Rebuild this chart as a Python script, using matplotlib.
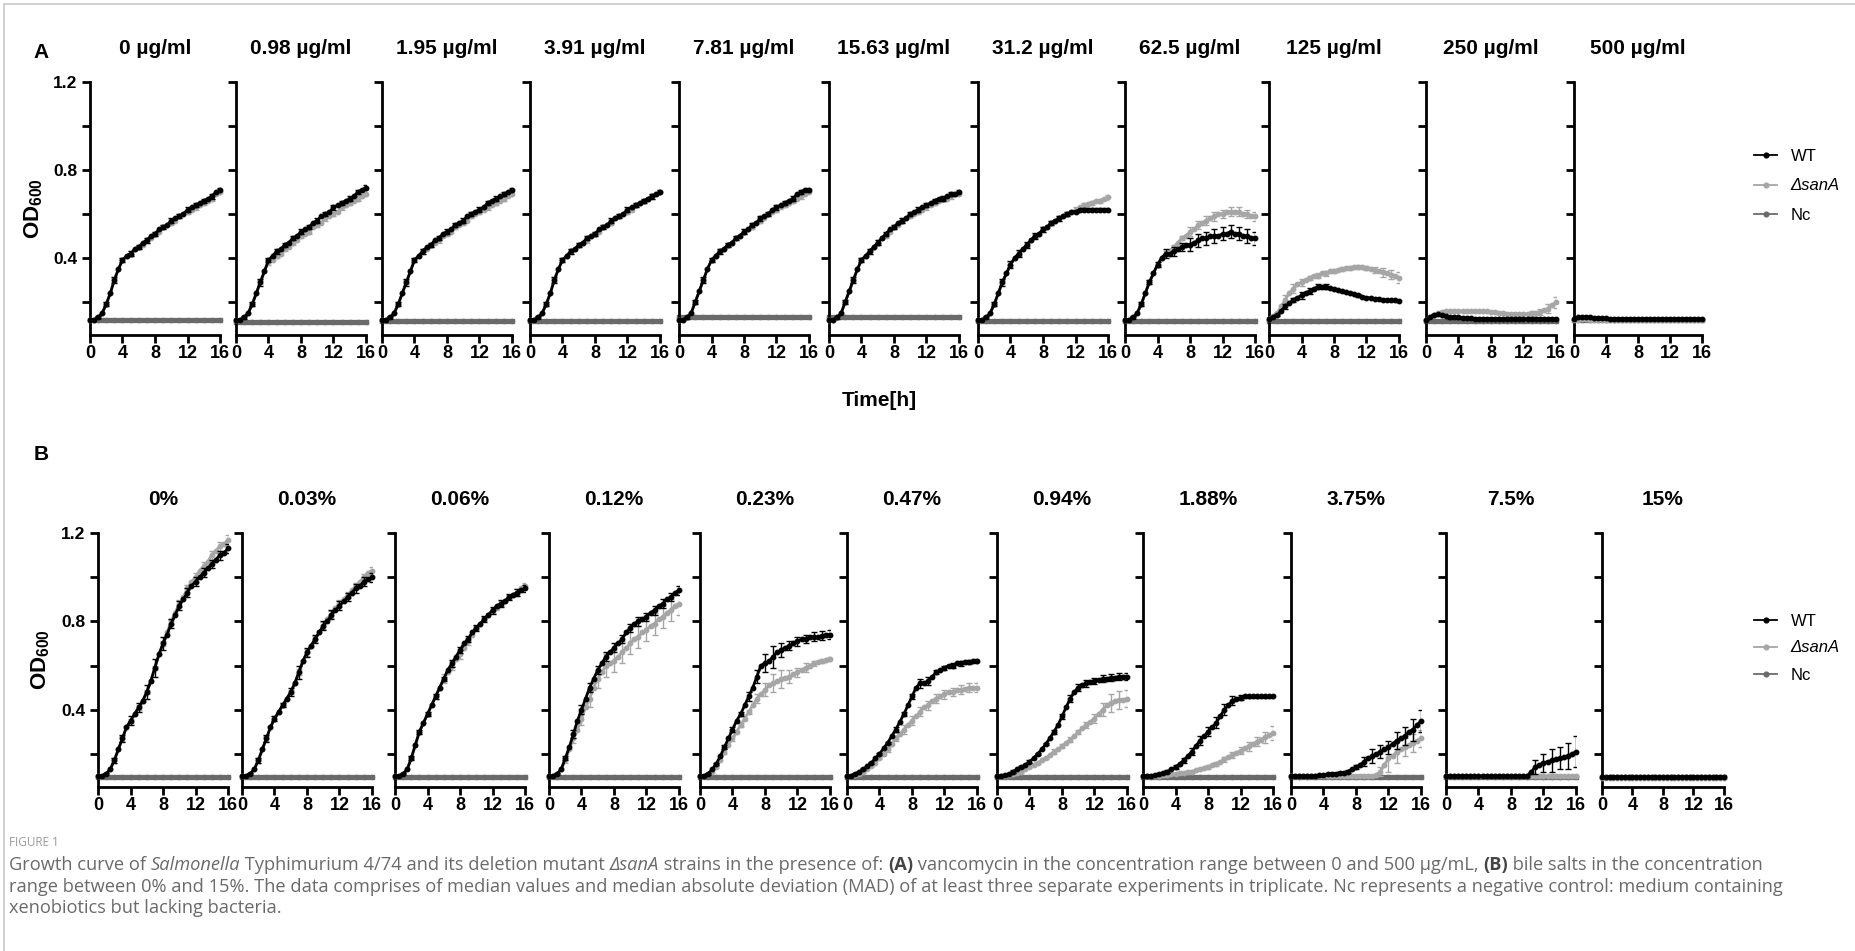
import matplotlib
matplotlib.use('Agg')
import matplotlib.pyplot as plt
from matplotlib.lines import Line2D
from matplotlib.font_manager import FontProperties

W, H = 1856, 951
plt.rcParams['font.family'] = ['Liberation Sans Narrow', 'Liberation Sans', 'DejaVu Sans']
plt.rcParams['mathtext.fontset'] = 'custom'
plt.rcParams['mathtext.rm'] = 'Liberation Sans'
plt.rcParams['mathtext.bf'] = 'Liberation Sans:bold'

# ---------------- data ----------------
T = [0, 0.5, 1, 1.5, 2, 2.5, 3, 3.5, 4, 4.5, 5, 5.5, 6, 6.5, 7, 7.5, 8, 8.5,
     9, 9.5, 10, 10.5, 11, 11.5, 12, 12.5, 13, 13.5, 14, 14.5, 15, 15.5, 16]
TH = [0, 1, 2, 3, 4, 5, 6, 7, 8, 9, 10, 11, 12, 13, 14, 15, 16]
X_TICKS = [0, 4, 8, 12, 16]
Y_TICKS = [0.2, 0.4, 0.6, 0.8, 1.0, 1.2]
Y_TICK_LABELS = ['', '0.4', '', '0.8', '', '1.2']

TITLES_A = ['0 µg/ml', '0.98 µg/ml', '1.95 µg/ml', '3.91 µg/ml', '7.81 µg/ml', '15.63 µg/ml',
            '31.2 µg/ml', '62.5 µg/ml', '125 µg/ml', '250 µg/ml', '500 µg/ml']
TITLES_B = ['0%', '0.03%', '0.06%', '0.12%', '0.23%', '0.47%', '0.94%', '1.88%', '3.75%', '7.5%', '15%']
SERIES = ['WT', 'ΔsanA', 'Nc']

# ---- Panel A: vancomycin ----
A1_WT = [.12,.12,.13,.15,.19,.24,.30,.35,.39,.41,.42,.44,.45,.47,.48,.50,.51,.53,.54,.55,.57,.58,.59,.60,.62,.63,.64,.65,.66,.67,.68,.70,.71]
A1_WT_ERR = [.003,.005,.01,.015,.01,.01,.01,.01,.01,.01,.01,.01,.01,.01,.01,.01,.01]
A1_DS = [.12,.12,.13,.15,.19,.24,.30,.35,.39,.41,.42,.44,.45,.46,.48,.49,.51,.52,.54,.55,.56,.57,.59,.60,.61,.62,.63,.64,.65,.66,.67,.69,.70]
A1_DS_ERR = [.003,.005,.01,.01,.01,.01,.01,.01,.01,.01,.01,.01,.01,.01,.01,.01,.01]
A1_NC = [.12,.12,.12,.12,.12,.12,.12,.12,.12,.12,.12,.12,.12,.12,.12,.12,.12]

A2_WT = [.12,.12,.13,.15,.19,.24,.29,.34,.39,.41,.43,.44,.46,.47,.49,.50,.52,.53,.54,.56,.57,.59,.60,.61,.63,.64,.65,.66,.67,.68,.70,.71,.72]
A2_WT_ERR = [.003,.005,.01,.015,.01,.01,.01,.01,.01,.01,.01,.01,.01,.01,.01,.01,.01]
A2_DS = [.12,.12,.13,.15,.19,.24,.29,.34,.38,.39,.41,.42,.44,.45,.47,.48,.50,.51,.52,.54,.55,.56,.58,.59,.60,.61,.63,.64,.65,.66,.67,.68,.69]
A2_DS_ERR = [.003,.005,.01,.01,.01,.01,.01,.01,.01,.01,.01,.01,.01,.01,.01,.01,.01]
A2_NC = [.11,.11,.11,.11,.11,.11,.11,.11,.11,.11,.11,.11,.11,.11,.11,.11,.11]

A3_WT = [.12,.12,.13,.15,.19,.24,.29,.34,.39,.41,.43,.45,.46,.48,.49,.51,.52,.53,.55,.56,.57,.59,.60,.61,.62,.63,.65,.66,.67,.68,.69,.70,.71]
A3_WT_ERR = [.003,.005,.01,.015,.01,.01,.01,.01,.01,.01,.01,.01,.01,.01,.01,.01,.01]
A3_DS = [.12,.12,.13,.15,.19,.24,.29,.34,.39,.41,.43,.44,.46,.47,.48,.50,.51,.52,.54,.55,.56,.57,.59,.60,.61,.62,.63,.64,.65,.66,.67,.68,.69]
A3_DS_ERR = [.003,.005,.01,.01,.01,.01,.01,.01,.01,.01,.01,.01,.01,.01,.01,.01,.01]
A3_NC = [.115,.115,.115,.115,.115,.115,.115,.115,.115,.115,.115,.115,.115,.115,.115,.115,.115]

A4_WT = [.12,.12,.13,.15,.19,.24,.30,.35,.39,.41,.43,.44,.46,.47,.49,.50,.51,.53,.54,.55,.57,.58,.59,.60,.62,.63,.64,.65,.66,.67,.68,.69,.70]
A4_WT_ERR = [.003,.005,.01,.015,.01,.01,.01,.01,.01,.01,.01,.01,.01,.01,.01,.01,.01]
A4_DS = [.12,.12,.13,.15,.19,.24,.30,.35,.39,.41,.43,.44,.46,.47,.48,.50,.51,.52,.54,.55,.56,.58,.59,.60,.61,.62,.64,.65,.66,.67,.68,.69,.70]
A4_DS_ERR = [.003,.005,.01,.01,.01,.01,.01,.01,.01,.01,.01,.01,.01,.01,.01,.01,.01]
A4_NC = [.115,.115,.115,.115,.115,.115,.115,.115,.115,.115,.115,.115,.115,.115,.115,.115,.115]

A5_WT = [.12,.12,.13,.15,.20,.25,.30,.35,.39,.41,.43,.44,.46,.47,.49,.50,.52,.53,.55,.56,.58,.59,.60,.62,.63,.64,.65,.66,.67,.69,.70,.71,.71]
A5_WT_ERR = [.003,.005,.01,.015,.01,.01,.01,.01,.01,.01,.01,.01,.01,.01,.01,.01,.01]
A5_DS = [.12,.12,.13,.15,.20,.25,.30,.35,.39,.41,.43,.44,.46,.47,.49,.50,.52,.53,.54,.56,.57,.58,.60,.61,.62,.63,.64,.65,.66,.67,.68,.69,.70]
A5_DS_ERR = [.003,.005,.01,.01,.01,.01,.01,.01,.01,.01,.01,.01,.01,.01,.01,.01,.01]
A5_NC = [.13,.13,.13,.13,.13,.13,.13,.13,.13,.13,.13,.13,.13,.13,.13,.13,.13]

A6_WT = [.12,.12,.13,.15,.20,.25,.30,.35,.39,.41,.43,.45,.47,.49,.51,.53,.54,.56,.57,.58,.60,.61,.62,.63,.64,.65,.66,.67,.67,.68,.69,.69,.70]
A6_WT_ERR = [.003,.005,.01,.015,.01,.01,.01,.01,.01,.01,.01,.01,.01,.01,.01,.01,.01]
A6_DS = [.12,.12,.13,.15,.20,.25,.30,.35,.39,.41,.43,.45,.47,.49,.50,.52,.54,.55,.57,.58,.59,.60,.61,.62,.63,.64,.65,.66,.67,.67,.68,.69,.69]
A6_DS_ERR = [.003,.005,.01,.01,.01,.01,.01,.01,.01,.01,.01,.01,.01,.01,.01,.01,.01]
A6_NC = [.13,.13,.13,.13,.13,.13,.13,.13,.13,.13,.13,.13,.13,.13,.13,.13,.13]

A7_WT = [.12,.12,.13,.15,.19,.24,.29,.33,.37,.40,.42,.44,.46,.48,.50,.51,.53,.54,.56,.57,.58,.59,.60,.61,.61,.62,.62,.62,.62,.62,.62,.62,.62]
A7_WT_ERR = [.003,.005,.01,.015,.015,.015,.015,.015,.01,.01,.01,.01,.005,.005,.005,.005,.005]
A7_DS = [.12,.12,.13,.15,.19,.24,.29,.33,.37,.40,.42,.44,.46,.48,.50,.51,.53,.54,.56,.57,.58,.59,.60,.61,.62,.63,.64,.645,.65,.66,.66,.67,.675]
A7_DS_ERR = [.003,.005,.01,.01,.01,.01,.01,.01,.01,.01,.01,.01,.01,.01,.01,.01,.01]
A7_NC = [.115,.115,.115,.115,.115,.115,.115,.115,.115,.115,.115,.115,.115,.115,.115,.115,.115]

A8_WT = [.12,.12,.13,.15,.19,.24,.29,.33,.37,.40,.42,.42,.43,.44,.45,.46,.46,.47,.48,.49,.49,.50,.50,.50,.51,.51,.52,.51,.51,.50,.50,.49,.49]
A8_WT_ERR = [.003,.005,.01,.01,.01,.02,.02,.02,.03,.03,.03,.03,.03,.03,.03,.03,.03]
A8_DS = [.12,.12,.13,.15,.19,.24,.29,.33,.37,.40,.42,.43,.45,.47,.49,.50,.52,.53,.55,.56,.57,.58,.59,.60,.60,.61,.61,.61,.61,.60,.60,.59,.59]
A8_DS_ERR = [.003,.005,.01,.01,.01,.01,.01,.01,.02,.02,.02,.02,.02,.02,.02,.02,.02]
A8_NC = [.115,.115,.115,.115,.115,.115,.115,.115,.115,.115,.115,.115,.115,.115,.115,.115,.115]

A9_WT = [.125,.13,.14,.16,.18,.195,.21,.22,.23,.24,.25,.26,.27,.27,.27,.265,.26,.255,.25,.245,.24,.235,.23,.225,.22,.218,.215,.213,.21,.21,.208,.207,.205]
A9_WT_ERR = [.003,.005,.01,.01,.015,.015,.01,.01,.005,.005,.005,.005,.003,.003,.003,.003,.003]
A9_DS = [.125,.135,.15,.18,.21,.24,.26,.28,.29,.30,.31,.32,.32,.33,.33,.34,.34,.345,.35,.355,.355,.36,.36,.36,.355,.35,.345,.34,.335,.33,.325,.32,.31]
A9_DS_ERR = [.003,.005,.02,.02,.015,.01,.01,.01,.01,.01,.01,.01,.01,.015,.02,.02,.025]
A9_NC = [.115,.115,.115,.115,.115,.115,.115,.115,.115,.115,.115,.115,.115,.115,.115,.115,.115]

A10_WT = [.12,.13,.14,.145,.14,.135,.13,.13,.13,.128,.127,.126,.125,.125,.125,.125,.125,.124,.124,.124,.124,.124,.124,.124,.124,.124,.124,.124,.124,.124,.124,.124,.124]
A10_WT_ERR = [.003,.005,.005,.005,.005,.003,.003,.003,.003,.003,.003,.003,.003,.003,.003,.003,.003]
A10_DS = [.12,.13,.14,.15,.155,.158,.16,.16,.16,.16,.16,.16,.16,.16,.158,.157,.155,.153,.15,.148,.146,.145,.145,.145,.145,.146,.148,.15,.155,.162,.17,.185,.20]
A10_DS_ERR = [.003,.005,.005,.005,.005,.005,.005,.005,.005,.005,.005,.005,.005,.01,.015,.02,.025]
A10_NC = [.115,.115,.115,.115,.115,.115,.115,.115,.115,.115,.115,.115,.115,.115,.115,.115,.115]

A11_WT = [.125,.13,.132,.132,.13,.128,.127,.126,.126,.125,.125,.125,.125,.125,.125,.125,.124,.124,.124,.124,.124,.124,.124,.124,.124,.124,.124,.124,.124,.124,.124,.123,.123]
A11_WT_ERR = [.003,.003,.003,.003,.003,.003,.003,.003,.003,.003,.003,.003,.003,.003,.003,.003,.003]
A11_DS = [.12,.12,.121,.121,.12,.12,.12,.12,.12,.12,.12,.12,.12,.12,.12,.12,.12,.12,.12,.12,.12,.12,.12,.12,.12,.12,.12,.12,.12,.12,.12,.12,.12]
A11_DS_ERR = [.002,.002,.002,.002,.002,.002,.002,.002,.002,.002,.002,.002,.002,.002,.002,.002,.002]
A11_NC = [.12,.12,.12,.12,.12,.12,.12,.12,.12,.12,.12,.12,.12,.12,.12,.12,.12]

# ---- Panel B: bile salts ----
B1_WT = [.10,.10,.11,.13,.17,.22,.27,.32,.35,.38,.41,.44,.48,.53,.59,.65,.70,.74,.79,.83,.87,.90,.93,.96,.98,1.00,1.02,1.04,1.06,1.08,1.10,1.11,1.13]
B1_WT_ERR = [.002,.005,.01,.015,.02,.02,.03,.04,.03,.02,.02,.02,.02,.02,.02,.02,.02]
B1_DS = [.10,.10,.11,.13,.17,.22,.27,.32,.35,.38,.41,.44,.48,.53,.59,.65,.70,.75,.80,.84,.88,.91,.95,.98,1.00,1.03,1.05,1.07,1.10,1.12,1.14,1.15,1.17]
B1_DS_ERR = [.002,.005,.01,.01,.01,.01,.01,.01,.01,.01,.015,.015,.02,.02,.02,.02,.02]
B1_NC = [.095,.095,.095,.095,.095,.095,.095,.095,.095,.095,.095,.095,.095,.095,.095,.095,.095]

B2_WT = [.10,.10,.11,.13,.17,.22,.27,.32,.36,.39,.42,.45,.48,.52,.57,.62,.66,.69,.72,.75,.78,.80,.83,.85,.87,.89,.91,.93,.95,.96,.98,.99,1.00]
B2_WT_ERR = [.002,.005,.01,.015,.01,.01,.02,.03,.02,.02,.02,.02,.02,.02,.02,.02,.02]
B2_DS = [.10,.10,.11,.13,.17,.22,.27,.32,.36,.39,.42,.45,.48,.52,.57,.62,.66,.69,.72,.75,.78,.81,.83,.86,.88,.90,.92,.94,.96,.98,1.00,1.02,1.03]
B2_DS_ERR = [.002,.005,.01,.01,.01,.01,.01,.015,.015,.015,.015,.015,.015,.015,.015,.015,.015]
B2_NC = [.095,.095,.095,.095,.095,.095,.095,.095,.095,.095,.095,.095,.095,.095,.095,.095,.095]

B3_WT = [.10,.10,.11,.13,.18,.24,.30,.34,.38,.42,.46,.50,.54,.58,.61,.64,.67,.70,.72,.75,.77,.79,.81,.83,.85,.87,.88,.89,.91,.92,.93,.94,.95]
B3_WT_ERR = [.002,.005,.01,.01,.01,.01,.01,.015,.015,.015,.015,.015,.015,.015,.015,.015,.015]
B3_DS = [.10,.10,.11,.13,.18,.24,.30,.34,.38,.42,.46,.50,.54,.57,.60,.63,.65,.68,.71,.74,.77,.79,.81,.83,.85,.86,.88,.89,.91,.92,.93,.95,.96]
B3_DS_ERR = [.002,.005,.01,.01,.01,.01,.02,.02,.02,.015,.01,.01,.01,.01,.01,.015,.015]
B3_NC = [.095,.095,.095,.095,.095,.095,.095,.095,.095,.095,.095,.095,.095,.095,.095,.095,.095]

B4_WT = [.10,.10,.11,.13,.18,.23,.29,.35,.40,.45,.50,.54,.58,.61,.64,.66,.68,.70,.72,.75,.77,.79,.80,.81,.82,.84,.85,.87,.88,.90,.91,.93,.94]
B4_WT_ERR = [.002,.005,.01,.02,.02,.02,.02,.02,.02,.02,.02,.02,.02,.02,.02,.02,.02]
B4_DS = [.10,.10,.11,.13,.17,.22,.27,.31,.36,.41,.45,.50,.54,.57,.60,.61,.62,.64,.66,.68,.70,.72,.73,.75,.76,.78,.79,.81,.82,.84,.85,.87,.88]
B4_DS_ERR = [.002,.005,.01,.02,.03,.04,.04,.05,.05,.05,.05,.05,.05,.05,.05,.05,.05]
B4_NC = [.095,.095,.095,.095,.095,.095,.095,.095,.095,.095,.095,.095,.095,.095,.095,.095,.095]

B5_WT = [.10,.10,.11,.13,.155,.19,.23,.27,.31,.35,.38,.42,.46,.50,.55,.60,.61,.62,.64,.66,.67,.68,.69,.70,.71,.72,.72,.73,.73,.73,.735,.74,.74]
B5_WT_ERR = [.002,.005,.005,.01,.01,.01,.02,.03,.04,.05,.03,.02,.02,.02,.02,.02,.02]
B5_DS = [.10,.10,.11,.12,.14,.17,.21,.24,.27,.30,.33,.36,.39,.42,.45,.47,.49,.51,.52,.53,.54,.545,.55,.56,.57,.58,.59,.60,.61,.615,.62,.625,.63]
B5_DS_ERR = [.002,.005,.005,.01,.01,.01,.01,.02,.03,.04,.04,.03,.02,.02,.01,.01,.01]
B5_NC = [.095,.095,.095,.095,.095,.095,.095,.095,.095,.095,.095,.095,.095,.095,.095,.095,.095]

B6_WT = [.10,.10,.11,.12,.13,.145,.16,.18,.20,.225,.25,.28,.31,.345,.38,.42,.46,.50,.52,.52,.53,.55,.57,.58,.59,.60,.60,.61,.61,.615,.615,.62,.62]
B6_WT_ERR = [.002,.003,.005,.005,.005,.005,.01,.01,.01,.02,.02,.01,.01,.01,.01,.01,.01]
B6_DS = [.10,.10,.105,.11,.12,.13,.145,.16,.18,.20,.22,.245,.27,.29,.31,.33,.35,.37,.39,.41,.42,.44,.45,.46,.47,.48,.48,.49,.49,.495,.50,.50,.50]
B6_DS_ERR = [.002,.003,.005,.005,.005,.01,.01,.02,.02,.02,.02,.02,.02,.02,.02,.02,.02]
B6_NC = [.095,.095,.095,.095,.095,.095,.095,.095,.095,.095,.095,.095,.095,.095,.095,.095,.095]

B7_WT = [.10,.10,.105,.11,.12,.13,.14,.15,.165,.18,.20,.22,.245,.27,.30,.33,.37,.41,.45,.48,.50,.51,.52,.525,.53,.535,.54,.54,.545,.545,.55,.55,.55]
B7_WT_ERR = [.002,.003,.005,.005,.005,.005,.005,.01,.01,.015,.015,.015,.015,.015,.015,.015,.015]
B7_DS = [.10,.10,.10,.105,.11,.115,.12,.13,.14,.15,.16,.17,.18,.195,.21,.22,.235,.25,.265,.28,.30,.315,.33,.345,.36,.38,.40,.42,.43,.44,.445,.445,.45]
B7_DS_ERR = [.002,.003,.005,.005,.005,.005,.005,.01,.01,.01,.01,.015,.02,.03,.04,.04,.04]
B7_NC = [.095,.095,.095,.095,.095,.095,.095,.095,.095,.095,.095,.095,.095,.095,.095,.095,.095]

B8_WT = [.10,.10,.10,.105,.11,.115,.12,.13,.14,.155,.17,.19,.21,.235,.26,.28,.30,.32,.34,.37,.40,.42,.44,.45,.455,.46,.46,.46,.46,.46,.46,.46,.46]
B8_WT_ERR = [.002,.002,.003,.005,.01,.01,.015,.02,.02,.025,.025,.02,.01,.005,.005,.005,.005]
B8_DS = [.10,.10,.10,.10,.10,.105,.105,.11,.11,.115,.115,.12,.12,.125,.13,.135,.14,.15,.155,.165,.175,.185,.195,.205,.215,.225,.235,.245,.255,.265,.275,.285,.295]
B8_DS_ERR = [.002,.002,.002,.003,.003,.005,.005,.005,.01,.01,.01,.015,.015,.02,.02,.025,.03]
B8_NC = [.095,.095,.095,.095,.095,.095,.095,.095,.095,.095,.095,.095,.095,.095,.095,.095,.095]

B9_WT = [.10,.10,.10,.10,.10,.10,.10,.105,.105,.11,.11,.11,.115,.115,.12,.13,.14,.15,.165,.18,.19,.20,.21,.22,.23,.245,.26,.27,.28,.30,.31,.33,.35]
B9_WT_ERR = [.002,.002,.003,.003,.005,.005,.005,.005,.01,.02,.03,.03,.03,.04,.04,.05,.05]
B9_DS = [.10,.10,.10,.10,.10,.10,.10,.10,.10,.10,.10,.10,.10,.10,.10,.10,.10,.10,.10,.10,.10,.105,.12,.15,.18,.19,.21,.22,.23,.24,.25,.26,.27]
B9_DS_ERR = [.002,.002,.002,.002,.002,.002,.002,.002,.002,.002,.005,.02,.06,.05,.04,.04,.04]
B9_NC = [.095,.095,.095,.095,.095,.095,.095,.095,.095,.095,.095,.095,.095,.095,.095,.095,.095]

B10_WT = [.10,.10,.10,.10,.10,.10,.10,.10,.10,.10,.10,.10,.10,.10,.10,.10,.10,.10,.10,.10,.10,.12,.14,.15,.16,.165,.17,.175,.18,.185,.19,.20,.21]
B10_WT_ERR = [.002,.002,.002,.002,.002,.002,.002,.002,.002,.002,.005,.03,.04,.05,.05,.06,.07]
B10_DS = [.098,.098,.098,.098,.098,.098,.098,.098,.098,.098,.098,.098,.098,.098,.098,.098,.098,.098,.098,.098,.098,.098,.098,.098,.098,.098,.098,.098,.098,.098,.098,.098,.098]
B10_DS_ERR = [.002,.002,.002,.002,.002,.002,.002,.002,.002,.002,.002,.002,.002,.002,.002,.002,.002]
B10_NC = [.095,.095,.095,.095,.095,.095,.095,.095,.095,.095,.095,.095,.095,.095,.095,.095,.095]

B11_WT = [.095,.095,.095,.095,.095,.095,.095,.095,.095,.095,.095,.095,.095,.095,.095,.095,.095,.095,.095,.095,.095,.095,.095,.095,.095,.095,.095,.095,.095,.095,.095,.095,.095]
B11_WT_ERR = [.002,.002,.002,.002,.002,.002,.002,.002,.002,.002,.002,.002,.002,.002,.002,.002,.002]
B11_DS = [.093,.093,.093,.093,.093,.093,.093,.093,.093,.093,.093,.093,.093,.093,.093,.093,.093,.093,.093,.093,.093,.093,.093,.093,.093,.093,.093,.093,.093,.093,.093,.093,.093]
B11_DS_ERR = [.002,.002,.002,.002,.002,.002,.002,.002,.002,.002,.002,.002,.002,.002,.002,.002,.002]
B11_NC = [.095,.095,.095,.095,.095,.095,.095,.095,.095,.095,.095,.095,.095,.095,.095,.095,.095]

PANELS_A = [
    (A1_WT, A1_WT_ERR, A1_DS, A1_DS_ERR, A1_NC), (A2_WT, A2_WT_ERR, A2_DS, A2_DS_ERR, A2_NC),
    (A3_WT, A3_WT_ERR, A3_DS, A3_DS_ERR, A3_NC), (A4_WT, A4_WT_ERR, A4_DS, A4_DS_ERR, A4_NC),
    (A5_WT, A5_WT_ERR, A5_DS, A5_DS_ERR, A5_NC), (A6_WT, A6_WT_ERR, A6_DS, A6_DS_ERR, A6_NC),
    (A7_WT, A7_WT_ERR, A7_DS, A7_DS_ERR, A7_NC), (A8_WT, A8_WT_ERR, A8_DS, A8_DS_ERR, A8_NC),
    (A9_WT, A9_WT_ERR, A9_DS, A9_DS_ERR, A9_NC), (A10_WT, A10_WT_ERR, A10_DS, A10_DS_ERR, A10_NC),
    (A11_WT, A11_WT_ERR, A11_DS, A11_DS_ERR, A11_NC)]
PANELS_B = [
    (B1_WT, B1_WT_ERR, B1_DS, B1_DS_ERR, B1_NC), (B2_WT, B2_WT_ERR, B2_DS, B2_DS_ERR, B2_NC),
    (B3_WT, B3_WT_ERR, B3_DS, B3_DS_ERR, B3_NC), (B4_WT, B4_WT_ERR, B4_DS, B4_DS_ERR, B4_NC),
    (B5_WT, B5_WT_ERR, B5_DS, B5_DS_ERR, B5_NC), (B6_WT, B6_WT_ERR, B6_DS, B6_DS_ERR, B6_NC),
    (B7_WT, B7_WT_ERR, B7_DS, B7_DS_ERR, B7_NC), (B8_WT, B8_WT_ERR, B8_DS, B8_DS_ERR, B8_NC),
    (B9_WT, B9_WT_ERR, B9_DS, B9_DS_ERR, B9_NC), (B10_WT, B10_WT_ERR, B10_DS, B10_DS_ERR, B10_NC),
    (B11_WT, B11_WT_ERR, B11_DS, B11_DS_ERR, B11_NC)]

# ---------------- style / layout ----------------
WT_C = '#000000'
DS_C = '#a6a6a6'
NC_C = '#6a6a6a'

A_LEFT = [90, 236, 382, 530, 679, 829, 978, 1125, 1269, 1426, 1574]
A_WIDTH = [130, 130, 130, 130, 130, 130, 130, 130, 130, 130, 128]
A_TOP, A_BOT = 82, 335
B_LEFT = [98, 242, 395, 549, 700, 847, 997, 1143, 1291, 1446, 1602]
B_WIDTH = [130, 130, 130, 130, 130, 130, 130, 130, 130, 130, 122]
B_TOP, B_BOT = 533, 787

fig = plt.figure(figsize=(W / 100, H / 100), dpi=100)
fig.patch.set_facecolor('white')


def make_ax(left, width, top, bot):
    return fig.add_axes([left / W, 1 - bot / H, width / W, (bot - top) / H])


def draw_panel(ax, data, title, first):
    wt, wt_err, ds, ds_err, nc = data
    ax.plot(TH, nc, color=NC_C, lw=3.8, marker='o', ms=3.0, clip_on=False, zorder=2)
    ax.errorbar(TH, ds[::2], yerr=ds_err, fmt='none', ecolor=DS_C, elinewidth=1.0,
                capsize=2.0, capthick=1.0, zorder=3)
    ax.plot(T, ds, color=DS_C, lw=2.0, marker='o', ms=3.2, clip_on=False, zorder=3)
    ax.errorbar(TH, wt[::2], yerr=wt_err, fmt='none', ecolor=WT_C, elinewidth=1.0,
                capsize=2.0, capthick=1.0, zorder=4)
    ax.plot(T, wt, color=WT_C, lw=2.0, marker='o', ms=3.2, clip_on=False, zorder=4)
    ax.set_xlim(0, 16)
    ax.set_ylim(0.05, 1.2)
    for s in ('top', 'right'):
        ax.spines[s].set_visible(False)
    for s in ('left', 'bottom'):
        ax.spines[s].set_linewidth(2.0)
    ax.set_xticks(X_TICKS, labels=[str(v) for v in X_TICKS], fontweight='bold', fontsize=13)
    if first:
        ax.set_yticks(Y_TICKS, labels=Y_TICK_LABELS, fontweight='bold', fontsize=12.5)
    else:
        ax.set_yticks(Y_TICKS, labels=['' for _ in Y_TICKS])
    ax.tick_params(axis='x', direction='out', length=6, width=2, pad=1)
    ax.tick_params(axis='y', direction='out', length=6, width=2, pad=3)
    ax.set_title(title, fontsize=15, fontweight='bold', pad=20)
    ax.patch.set_alpha(0)


for i, data in enumerate(PANELS_A):
    ax = make_ax(A_LEFT[i], A_WIDTH[i], A_TOP, A_BOT)
    draw_panel(ax, data, TITLES_A[i], i == 0)
for i, data in enumerate(PANELS_B):
    ax = make_ax(B_LEFT[i], B_WIDTH[i], B_TOP, B_BOT)
    draw_panel(ax, data, TITLES_B[i], i == 0)

# panel letters, axis labels
fig.text(41 / W, 1 - 52 / H, 'A', fontsize=15, fontweight='bold', ha='center', va='center')
fig.text(41 / W, 1 - 455 / H, 'B', fontsize=15, fontweight='bold', ha='center', va='center')
od = r'$\mathbf{OD}_{\mathbf{600}}$'
fig.text(34 / W, 1 - (A_TOP + A_BOT) / 2 / H, od, fontsize=16, rotation=90, ha='center', va='center')
fig.text(41 / W, 1 - (B_TOP + B_BOT) / 2 / H, od, fontsize=16, rotation=90, ha='center', va='center')
fig.text(879 / W, 1 - 401 / H, 'Time[h]', fontsize=15, fontweight='bold', ha='center', va='center')

# legends
for yc, sp in ((186, 0.85), (648, 0.72)):
    handles = [Line2D([], [], color=c, lw=1.3, marker='o', ms=3.4) for c in (WT_C, DS_C, NC_C)]
    leg = fig.legend(handles, SERIES, loc='center left', bbox_to_anchor=(1754 / W, 1 - yc / H),
                     frameon=False, fontsize=12, handlelength=1.4, handletextpad=0.8,
                     labelspacing=sp, borderpad=0, borderaxespad=0)
    leg.get_texts()[1].set_fontstyle('italic')

# frame
fig.add_artist(Line2D([4 / W, 4 / W], [0, 1 - 4 / H], color='#c8c8c8', lw=1.2, transform=fig.transFigure))
fig.add_artist(Line2D([4 / W, 1], [1 - 4 / H, 1 - 4 / H], color='#c8c8c8', lw=1.2, transform=fig.transFigure))

# caption
CAP_FONT = 'Open Sans'
CAP_COLOR = '#6a6a6a'
LINE1 = [('Growth curve of ', ''), ('Salmonella', 'i'), (' Typhimurium 4/74 and its deletion mutant ', ''),
         ('ΔsanA', 'i'), (' strains in the presence of: ', ''), ('(A)', 'b'),
         (' vancomycin in the concentration range between 0 and 500 μg/mL, ', ''), ('(B)', 'b'),
         (' bile salts in the concentration', '')]
LINE2 = [('range between 0% and 15%. The data comprises of median values and median absolute deviation '
          '(MAD) of at least three separate experiments in triplicate. Nc represents a negative control: '
          'medium containing', '')]
LINE3 = [('xenobiotics but lacking bacteria.', '')]

renderer = fig.canvas.get_renderer()


def fprop(st, size):
    return FontProperties(family=[CAP_FONT, 'DejaVu Sans'], size=size,
                          style='italic' if 'i' in st else 'normal',
                          weight='bold' if 'b' in st else 'normal')


def seg_w(s, fp):
    w1 = renderer.get_text_width_height_descent('|' + s + '|', fp, ismath=False)[0]
    w2 = renderer.get_text_width_height_descent('||', fp, ismath=False)[0]
    return w1 - w2


base = 11.0
natural = sum(seg_w(s, fprop(st, base)) for s, st in LINE1)
cap_size = base * (1763 / natural)


def put_line(segs, ypx):
    x = 9.0
    for s, st in segs:
        fp = fprop(st, cap_size)
        fig.text(x / W, 1 - ypx / H, s, fontproperties=fp, ha='left', va='center',
                 color='#444444' if 'b' in st else CAP_COLOR)
        x += seg_w(s, fp)


fig.text(9 / W, 1 - 842 / H, 'FIGURE 1', fontsize=8.5, color='#9a9a9a', family=[CAP_FONT, 'DejaVu Sans'],
         ha='left', va='center')
put_line(LINE1, 865)
put_line(LINE2, 887)
put_line(LINE3, 908)

fig.savefig('out.png', dpi=100)
